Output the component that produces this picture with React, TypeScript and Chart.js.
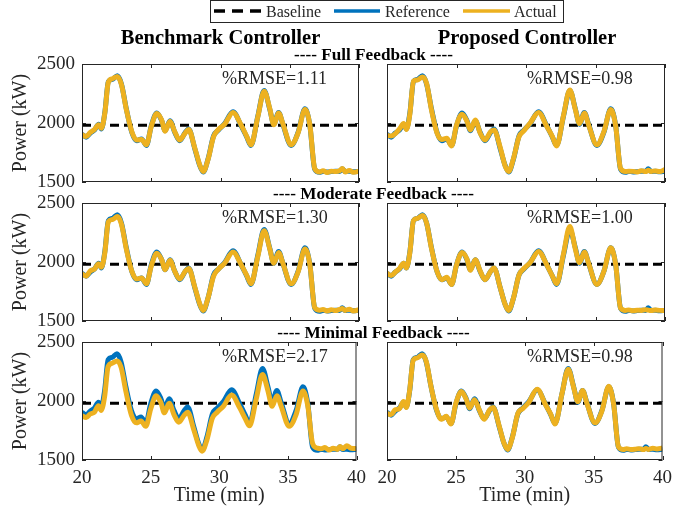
import React, { useEffect, useRef } from "react";
import { Chart, registerables } from "chart.js";

Chart.register(...registerables);

// ---------- DATA ----------
const timeMin = [20.0, 20.3, 20.6, 20.9, 21.2, 21.4, 21.65, 21.9, 22.2, 22.55, 22.85, 23.2, 23.6, 23.95, 24.3, 24.65, 25.0, 25.4, 25.75, 26.0, 26.35, 26.7, 27.05, 27.45, 27.7, 28.15, 28.5, 28.75, 29.1, 29.5, 29.85, 30.3, 30.9, 31.5, 31.9, 32.2, 32.7, 33.15, 33.55, 33.85, 34.2, 34.5, 35.1, 35.6, 36.1, 36.45, 36.8, 37.15, 37.4, 37.7, 38.0, 38.3, 38.6, 38.8, 39.0, 39.3, 39.6, 40.0];

const referenceKW = [1905, 1880, 1915, 1940, 1990, 1950, 2090, 2350, 2370, 2400, 2330, 2120, 1920, 1850, 1865, 1810, 1975, 2085, 2020, 1935, 2020, 1920, 1850, 1920, 1950, 1780, 1640, 1585, 1695, 1890, 1940, 1995, 2095, 1975, 1880, 1810, 2060, 2275, 2120, 1990, 2090, 1990, 1810, 1920, 2120, 1980, 1610, 1583, 1590, 1585, 1588, 1592, 1590, 1612, 1588, 1592, 1586, 1590];

const actualFullBenchmark = [1900, 1885, 1920, 1945, 1985, 1955, 2085, 2345, 2375, 2395, 2325, 2115, 1925, 1855, 1860, 1815, 1970, 2080, 2025, 1930, 2015, 1925, 1855, 1915, 1945, 1785, 1645, 1590, 1690, 1885, 1945, 1990, 2090, 1980, 1885, 1815, 2055, 2270, 2125, 1985, 2085, 1995, 1815, 1915, 2115, 1985, 1615, 1585, 1595, 1580, 1592, 1588, 1595, 1615, 1585, 1597, 1582, 1592];
const actualFullProposed = [1895, 1890, 1910, 1950, 1995, 1945, 2080, 2355, 2365, 2390, 2335, 2110, 1915, 1860, 1870, 1805, 1980, 2075, 2015, 1940, 2025, 1915, 1855, 1925, 1940, 1790, 1635, 1590, 1700, 1885, 1935, 2000, 2090, 1970, 1885, 1805, 2065, 2280, 2115, 1995, 2085, 1985, 1815, 1925, 2115, 1975, 1615, 1588, 1592, 1590, 1585, 1595, 1588, 1600, 1590, 1594, 1588, 1605];
const actualModerateBenchmark = [1900, 1880, 1925, 1940, 1985, 1955, 2080, 2340, 2360, 2385, 2320, 2110, 1920, 1855, 1865, 1815, 1965, 2075, 2020, 1935, 2015, 1920, 1855, 1920, 1945, 1785, 1645, 1590, 1695, 1880, 1940, 1990, 2085, 1975, 1885, 1815, 2050, 2265, 2115, 1990, 2080, 1990, 1815, 1915, 2110, 1980, 1615, 1592, 1598, 1585, 1595, 1588, 1598, 1605, 1590, 1600, 1585, 1595];
const actualModerateProposed = [1905, 1885, 1915, 1945, 1990, 1950, 2085, 2350, 2370, 2395, 2330, 2115, 1920, 1850, 1870, 1810, 1975, 2080, 2025, 1930, 2020, 1925, 1850, 1920, 1950, 1780, 1640, 1590, 1695, 1890, 1945, 1995, 2090, 1975, 1880, 1815, 2070, 2300, 2110, 1995, 2085, 1990, 1810, 1920, 2120, 1980, 1610, 1590, 1594, 1586, 1592, 1590, 1596, 1592, 1588, 1594, 1590, 1588];
const actualMinimalBenchmark = [1875, 1860, 1890, 1905, 1960, 1920, 2040, 2290, 2320, 2340, 2285, 2080, 1880, 1815, 1830, 1785, 1930, 2045, 1985, 1900, 1980, 1885, 1820, 1880, 1905, 1755, 1625, 1575, 1670, 1855, 1905, 1955, 2050, 1940, 1850, 1790, 2020, 2225, 2085, 1955, 2045, 1960, 1785, 1885, 2085, 1960, 1640, 1600, 1595, 1605, 1585, 1600, 1590, 1615, 1595, 1620, 1600, 1598];
const actualMinimalProposed = [1895, 1885, 1925, 1935, 1995, 1945, 2095, 2345, 2365, 2390, 2335, 2120, 1925, 1845, 1870, 1805, 1980, 2080, 2015, 1940, 2010, 1925, 1845, 1925, 1945, 1785, 1640, 1590, 1690, 1895, 1935, 1990, 2100, 1970, 1885, 1805, 2060, 2270, 2115, 1995, 2090, 1985, 1815, 1915, 2125, 1975, 1612, 1588, 1595, 1590, 1592, 1596, 1588, 1598, 1590, 1600, 1594, 1602];

const baselineKW = 1980;
const xTickValues = [20, 25, 30, 35, 40];
const yTickValues = [1500, 2000, 2500];
const rmseLabels = ["1.11", "0.98", "1.30", "1.00", "2.17", "0.98"];
const rowTitles = ["---- Full Feedback ----", "---- Moderate Feedback ----", "---- Minimal Feedback ----"];
const colTitles = ["Benchmark Controller", "Proposed Controller"];
const legendLabels = ["Baseline", "Reference", "Actual"];

const panelActuals = [
  actualFullBenchmark, actualFullProposed,
  actualModerateBenchmark, actualModerateProposed,
  actualMinimalBenchmark, actualMinimalProposed,
];

// ---------- STYLE / LAYOUT ----------
const FONT = "'Liberation Serif', 'Times New Roman', serif";
const BLUE = "#0072BD";
const YELLOW = "#EDB120";
const AXC = "#262626";

Chart.defaults.font.family = FONT;

const colCanvasLeft = [0, 367];
const colYAxisW = [82, 20];
const colPlotW = [277, 278];
const rowPlotTop = [64, 203, 342];
const plotH = 118;
const PAD_TOP = 22;
const PAD_BOTTOM = 22;
const PAD_RIGHT = 14;
const BOTTOM_AXIS_H = 48;

const framePlugin = {
  id: "frameTicks",
  afterDatasetsDraw(chart: any) {
    const { ctx, chartArea: a, scales } = chart;
    ctx.save();
    ctx.strokeStyle = AXC;
    ctx.lineWidth = 1;
    ctx.strokeRect(a.left + 0.5, a.top + 0.5, a.right - a.left - 1, a.bottom - a.top - 1);
    ctx.beginPath();
    const tl = 4;
    xTickValues.forEach((v) => {
      const px = Math.round(scales.x.getPixelForValue(v)) + 0.5;
      ctx.moveTo(px, a.bottom);
      ctx.lineTo(px, a.bottom - tl);
      ctx.moveTo(px, a.top);
      ctx.lineTo(px, a.top + tl);
    });
    yTickValues.forEach((v) => {
      const py = Math.round(scales.y.getPixelForValue(v)) + 0.5;
      ctx.moveTo(a.left, py);
      ctx.lineTo(a.left + tl, py);
      ctx.moveTo(a.right, py);
      ctx.lineTo(a.right - tl, py);
    });
    ctx.stroke();
    ctx.restore();
  },
};

function Panel({ row, col, actual }: { row: number; col: number; actual: number[] }) {
  const ref = useRef<HTMLCanvasElement | null>(null);
  const isLeft = col === 0;
  const isBottom = row === 2;
  const width = colYAxisW[col] + colPlotW[col] + PAD_RIGHT;
  const height = PAD_TOP + plotH + (isBottom ? BOTTOM_AXIS_H : PAD_BOTTOM);
  const left = colCanvasLeft[col];
  const top = rowPlotTop[row] - PAD_TOP;

  useEffect(() => {
    if (!ref.current) return;
    const chart = new Chart(ref.current, {
      type: "line",
      data: {
        datasets: [
          {
            label: legendLabels[0],
            data: [{ x: 20, y: baselineKW }, { x: 40, y: baselineKW }],
            borderColor: "#000000",
            borderWidth: 3,
            borderDash: [9, 5],
            pointRadius: 0,
            order: 3,
          },
          {
            label: legendLabels[1],
            data: timeMin.map((t, i) => ({ x: t, y: referenceKW[i] })),
            borderColor: BLUE,
            borderWidth: 5,
            pointRadius: 0,
            cubicInterpolationMode: "monotone",
            order: 2,
          },
          {
            label: legendLabels[2],
            data: timeMin.map((t, i) => ({ x: t, y: actual[i] })),
            borderColor: YELLOW,
            borderWidth: 5,
            pointRadius: 0,
            cubicInterpolationMode: "monotone",
            order: 1,
          },
        ],
      },
      options: {
        animation: false,
        responsive: false,
        devicePixelRatio: 1,
        events: [],
        layout: { padding: { top: PAD_TOP, right: PAD_RIGHT, bottom: isBottom ? 0 : PAD_BOTTOM, left: 0 } },
        plugins: { legend: { display: false }, tooltip: { enabled: false } },
        scales: {
          x: {
            type: "linear",
            min: 20,
            max: 40,
            afterBuildTicks: (s: any) => {
              s.ticks = xTickValues.map((v) => ({ value: v }));
            },
            afterFit: (s: any) => {
              s.height = isBottom ? BOTTOM_AXIS_H : 0;
            },
            ticks: {
              display: isBottom,
              padding: 7,
              color: AXC,
              font: { family: FONT, size: 19 },
              maxRotation: 0,
              autoSkip: false,
              callback: (v: any) => String(v),
            },
            grid: { display: false, drawTicks: false },
            border: { display: false },
            title: {
              display: isBottom,
              text: "Time (min)",
              color: AXC,
              font: { family: FONT, size: 20 },
              padding: { top: 0, bottom: 0 },
            },
          },
          y: {
            type: "linear",
            min: 1500,
            max: 2500,
            afterBuildTicks: (s: any) => {
              s.ticks = yTickValues.map((v) => ({ value: v }));
            },
            afterFit: (s: any) => {
              s.width = colYAxisW[col];
            },
            ticks: {
              display: isLeft,
              padding: 7,
              color: AXC,
              font: { family: FONT, size: 19 },
              autoSkip: false,
              callback: (v: any) => String(v),
            },
            grid: { display: false, drawTicks: false },
            border: { display: false },
            title: {
              display: isLeft,
              text: "Power (kW)",
              color: AXC,
              font: { family: FONT, size: 20 },
              padding: { top: 9, bottom: 0 },
            },
          },
        },
      },
      plugins: [framePlugin],
    } as any);
    return () => chart.destroy();
  }, []);

  return (
    <canvas
      ref={ref}
      width={width}
      height={height}
      style={{ position: "absolute", left, top, width, height }}
    />
  );
}

function Label({
  x, y, size, bold, align, children,
}: { x: number; y: number; size: number; bold?: boolean; align?: "left" | "center"; children: React.ReactNode }) {
  return (
    <div
      style={{
        position: "absolute",
        left: x,
        top: y - size * 0.5,
        fontFamily: FONT,
        fontSize: size,
        lineHeight: `${size}px`,
        fontWeight: bold ? "bold" : "normal",
        whiteSpace: "nowrap",
        color: bold ? "#000" : AXC,
        transform: align === "center" ? "translateX(-50%)" : undefined,
      }}
    >
      {children}
    </div>
  );
}

export default function App() {
  const panels: { row: number; col: number }[] = [];
  for (let r = 0; r < 3; r++) for (let c = 0; c < 2; c++) panels.push({ row: r, col: c });

  const rmseX = [222, 527];
  const colCenter = [220.5, 527];

  return (
    <div
      style={{
        position: "fixed",
        left: 0,
        top: 0,
        width: 699,
        height: 508,
        background: "#fff",
        overflow: "hidden",
      }}
    >
      {panels.map((p, i) => (
        <Panel key={i} row={p.row} col={p.col} actual={panelActuals[i]} />
      ))}

      {colTitles.map((t, c) => (
        <Label key={"ct" + c} x={colCenter[c]} y={37.5} size={20.5} bold align="center">
          {t}
        </Label>
      ))}

      {rowTitles.map((t, r) => (
        <Label key={"rt" + r} x={373.5} y={rowPlotTop[r] - 9.5} size={17.2} bold align="center">
          {t}
        </Label>
      ))}

      {panels.map((p, i) => (
        <Label key={"rm" + i} x={rmseX[p.col]} y={rowPlotTop[p.row] + 13.5} size={18}>
          {"%RMSE=" + rmseLabels[i]}
        </Label>
      ))}

      <div
        style={{
          position: "absolute",
          left: 210,
          top: 0,
          width: 354,
          height: 23,
          boxSizing: "border-box",
          border: `1px solid ${AXC}`,
          background: "#fff",
        }}
      />
      <svg width={354} height={23} style={{ position: "absolute", left: 210, top: 0 }}>
        <line x1={4} x2={52} y1={11} y2={11} stroke="#000" strokeWidth={3.5} strokeDasharray="11 7" />
        <line x1={124} x2={170} y1={11} y2={11} stroke={BLUE} strokeWidth={3.5} />
        <line x1={253} x2={300} y1={11} y2={11} stroke={YELLOW} strokeWidth={3.5} />
      </svg>
      <Label x={266} y={12} size={16}>{legendLabels[0]}</Label>
      <Label x={385} y={12} size={16}>{legendLabels[1]}</Label>
      <Label x={514} y={12} size={16}>{legendLabels[2]}</Label>
    </div>
  );
}
